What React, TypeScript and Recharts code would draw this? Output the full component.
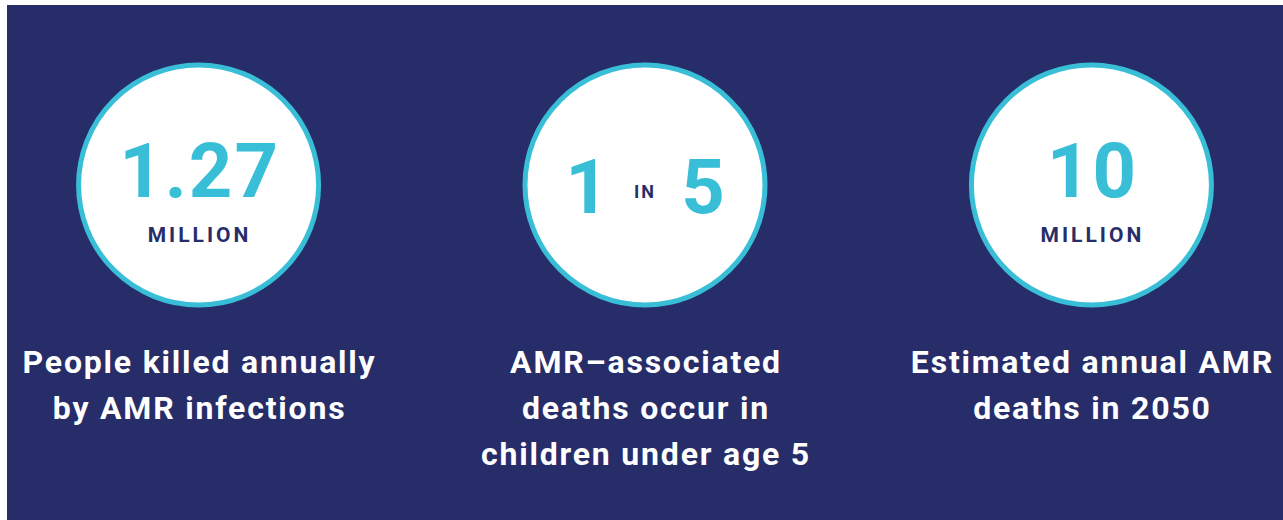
import React from 'react';
import { ScatterChart, Scatter, XAxis, YAxis } from 'recharts';

// figures shown in the three rings
const positions = [0, 1, 2];
const figures = ['1.27', '1|5', '10'];
const units = ['MILLION', 'IN', 'MILLION'];
const captions = [
  ['People killed annually', 'by AMR infections'],
  ['AMR–associated', 'deaths occur in', 'children under age 5'],
  ['Estimated annual AMR', 'deaths in 2050'],
];

const NAVY = '#272D69';
const CYAN = '#38BFD7';
const FONT = 'Roboto, "Open Sans", sans-serif';

const data = positions.map((p, i) => ({
  x: p,
  y: 0.5,
  figure: figures[i],
  unit: units[i],
  caption: captions[i],
}));

const StatBubble = (props: any) => {
  const { cx, cy, payload } = props;
  if (cx == null || cy == null) return null;
  const isRatio = payload.figure.includes('|');
  const [a, b] = payload.figure.split('|');
  return (
    <g>
      <circle cx={cx} cy={cy} r={120} fill="#fff" stroke={CYAN} strokeWidth={5} />
      {isRatio ? (
        <>
          <text x={cx - 58} y={cy + 28} textAnchor="middle" fill={CYAN} fontSize={76} fontWeight={700} fontFamily={FONT}>{a}</text>
          <text x={cx} y={cy + 13} textAnchor="middle" fill={NAVY} fontSize={18} fontWeight={700} letterSpacing={2} fontFamily={FONT}>{payload.unit}</text>
          <text x={cx + 58} y={cy + 28} textAnchor="middle" fill={CYAN} fontSize={76} fontWeight={700} fontFamily={FONT}>{b}</text>
        </>
      ) : (
        <>
          <text x={cx + 1} y={cy + 12} textAnchor="middle" fill={CYAN} fontSize={76} fontWeight={700} letterSpacing={2} fontFamily={FONT}>{payload.figure}</text>
          <text x={cx + 1} y={cy + 57} textAnchor="middle" fill={NAVY} fontSize={21} fontWeight={700} letterSpacing={3} fontFamily={FONT}>{payload.unit}</text>
        </>
      )}
      {payload.caption.map((line: string, k: number) => (
        <text key={k} x={cx + 1} y={cy + 188 + k * 46} textAnchor="middle" fill="#fff" fontSize={32} fontWeight={700} letterSpacing={1.8} fontFamily={FONT}>{line}</text>
      ))}
    </g>
  );
};

export default function App() {
  return (
    <div style={{ position: 'absolute', left: 7, top: 5, width: 1276, height: 515, background: NAVY }}>
      <ScatterChart width={1276} height={515} margin={{ top: 0, right: 13, bottom: 155, left: 13 }}>
        <XAxis type="number" dataKey="x" domain={[-0.4, 2.4]} hide />
        <YAxis type="number" dataKey="y" domain={[0, 1]} hide />
        <Scatter data={data} shape={StatBubble} isAnimationActive={false} />
      </ScatterChart>
    </div>
  );
}
